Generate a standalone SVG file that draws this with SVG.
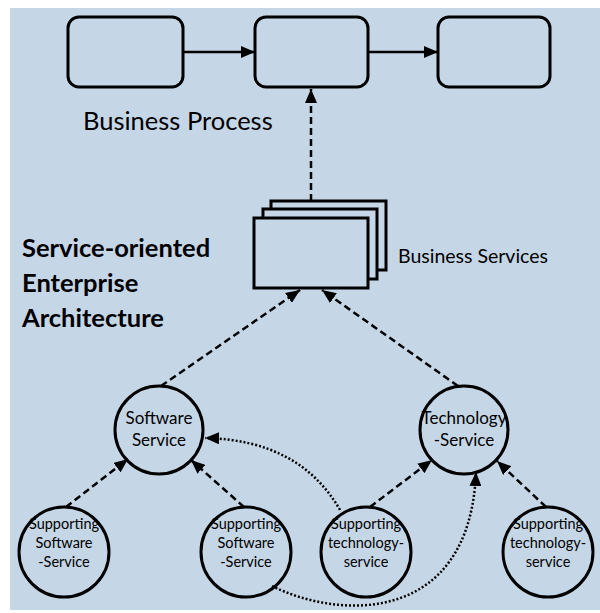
<svg xmlns="http://www.w3.org/2000/svg" width="600" height="613" viewBox="0 0 600 613">
  <defs>
    <marker id="arrow" viewBox="0 0 14 12" refX="14" refY="6" markerWidth="14" markerHeight="12" markerUnits="userSpaceOnUse" orient="auto">
      <path d="M0,0 L14,6 L0,12 Z" fill="#000"/>
    </marker>
    <style>
      .box { fill: none; stroke: #000; stroke-width: 3; }
      .node { fill: none; stroke: #000; stroke-width: 3; }
      .stack { fill: #c5d6e6; stroke: #000; stroke-width: 3; }
      .solid { fill: none; stroke: #000; stroke-width: 2.5; }
      .dash { fill: none; stroke: #000; stroke-width: 2.5; stroke-dasharray: 7 4; }
      .dot { fill: none; stroke: #000; stroke-width: 2.5; stroke-dasharray: 2 2; }
      text { font-family: Lato, "Liberation Sans", sans-serif; fill: #000; }
      .label { font-size: 14.5px; text-anchor: middle; }
      .label2 { font-size: 17px; text-anchor: middle; }
      .title { font-size: 25.5px; font-weight: bold; }
    </style>
  </defs>

  <!-- background panel -->
  <rect x="10" y="8" width="590" height="602" fill="#c5d6e6"/>

  <!-- business process steps -->
  <g id="step1"><rect class="box" x="68" y="17" width="115" height="70" rx="11"/></g>
  <g id="step2"><rect class="box" x="255" y="17" width="113" height="70" rx="11"/></g>
  <g id="step3"><rect class="box" x="438" y="17" width="112" height="70" rx="11"/></g>
  <g id="business-process-label">
    <text x="83" y="130" font-size="25.5">Business Process</text>
  </g>

  <!-- stacked business services -->
  <g id="business-services">
    <rect class="stack" x="271" y="201" width="115" height="69"/>
    <rect class="stack" x="263" y="209" width="114" height="70"/>
    <rect class="stack" x="254" y="218" width="114" height="70"/>
    <text x="398" y="263" font-size="19.5">Business Services</text>
  </g>

  <g id="title">
    <text class="title" x="22" y="257">Service-oriented</text>
    <text class="title" x="22" y="292">Enterprise</text>
    <text class="title" x="22" y="327">Architecture</text>
  </g>

  <!-- services -->
  <g id="software-service">
    <circle class="node" cx="159" cy="430" r="44"/>
    <text class="label2" x="159" y="424">Software</text>
    <text class="label2" x="159" y="446">Service</text>
  </g>
  <g id="technology-service">
    <circle class="node" cx="464" cy="430" r="44"/>
    <text class="label2" x="464" y="424">Technology</text>
    <text class="label2" x="464" y="446">-Service</text>
  </g>

  <g id="supporting-software-1">
    <circle class="node" cx="64" cy="552" r="45"/>
    <text class="label" x="64" y="529">Supporting</text>
    <text class="label" x="64" y="548">Software</text>
    <text class="label" x="64" y="567">-Service</text>
  </g>
  <g id="supporting-software-2">
    <circle class="node" cx="246" cy="552" r="45"/>
    <text class="label" x="246" y="529">Supporting</text>
    <text class="label" x="246" y="548">Software</text>
    <text class="label" x="246" y="567">-Service</text>
  </g>
  <g id="supporting-technology-1">
    <circle class="node" cx="366" cy="552" r="45"/>
    <text class="label" x="366" y="529">Supporting</text>
    <text class="label" x="366" y="548">technology-</text>
    <text class="label" x="366" y="567">service</text>
  </g>
  <g id="supporting-technology-2">
    <circle class="node" cx="548" cy="552" r="45"/>
    <text class="label" x="548" y="529">Supporting</text>
    <text class="label" x="548" y="548">technology-</text>
    <text class="label" x="548" y="567">service</text>
  </g>

  <!-- connectors -->
  <g id="connectors">
    <line class="solid" x1="183" y1="52" x2="255" y2="52" marker-end="url(#arrow)"/>
    <line class="solid" x1="368" y1="52" x2="438" y2="52" marker-end="url(#arrow)"/>
    <line class="dash" x1="311" y1="201" x2="311" y2="89" marker-end="url(#arrow)"/>
    <line class="dash" x1="161" y1="386" x2="300" y2="290" marker-end="url(#arrow)"/>
    <line class="dash" x1="458" y1="386" x2="322" y2="290" marker-end="url(#arrow)"/>
    <line class="dash" x1="66" y1="507" x2="128" y2="459" marker-end="url(#arrow)"/>
    <line class="dash" x1="244" y1="507" x2="191" y2="460" marker-end="url(#arrow)"/>
    <line class="dash" x1="370" y1="507" x2="432" y2="460" marker-end="url(#arrow)"/>
    <line class="dash" x1="546" y1="507" x2="497" y2="461" marker-end="url(#arrow)"/>
    <path class="dot" d="M340,510 Q300,440 205,438" marker-end="url(#arrow)"/>
    <path class="dot" d="M272,586 C340,620 470,625 476,472" marker-end="url(#arrow)"/>
  </g>
</svg>
